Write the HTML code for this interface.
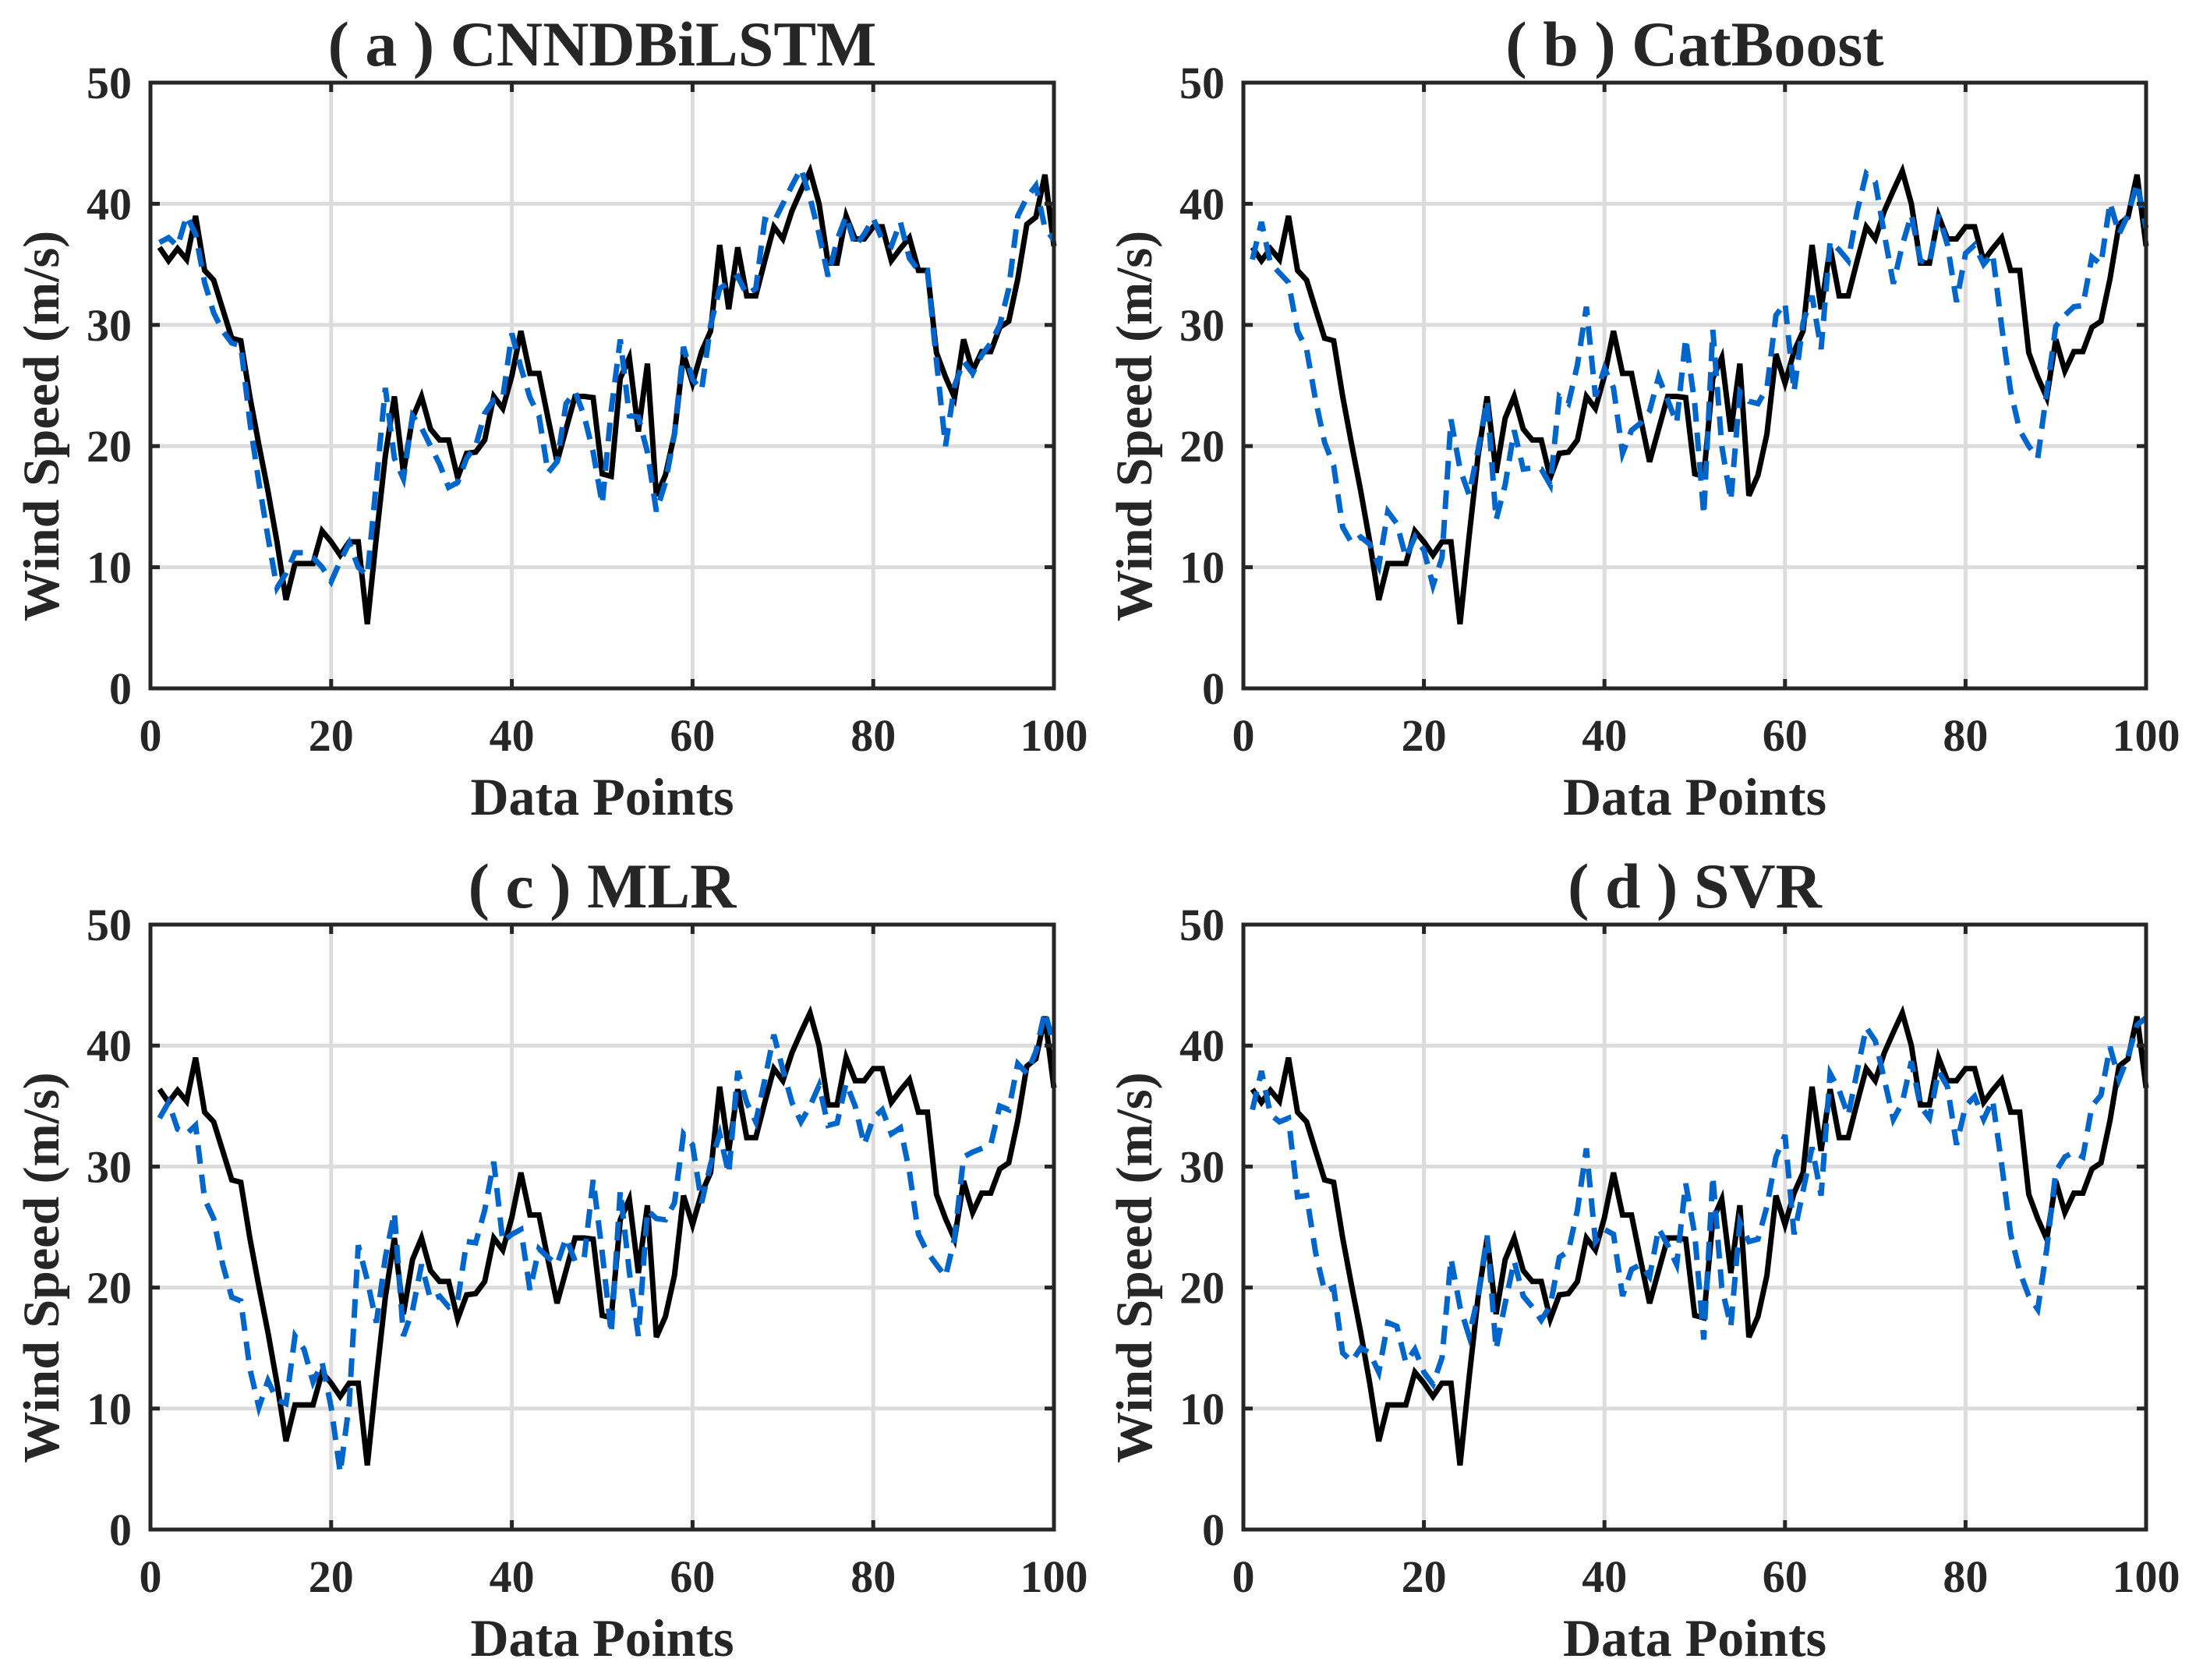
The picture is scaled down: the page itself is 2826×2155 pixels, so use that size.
<!DOCTYPE html>
<html><head><meta charset="utf-8"><style>
html,body{margin:0;padding:0;background:#fff}
svg{display:block}
text{font-family:"Liberation Serif","Times New Roman",serif;font-weight:bold;fill:#262626}
</style></head><body>
<svg id="fig" width="2826" height="2155" viewBox="0 0 2826 2155" xmlns="http://www.w3.org/2000/svg"></svg>
<script>
const actual=[36.4,35.3,36.3,35.4,39.0,34.5,33.7,31.3,28.9,28.7,24.1,20.1,16.3,12.1,7.3,10.3,10.3,10.3,13.0,12.1,11.0,12.1,12.1,5.3,12.5,19.2,24.1,17.8,22.3,24.1,21.4,20.5,20.5,17.4,19.4,19.5,20.5,24.1,23.1,25.8,29.5,26.0,26.0,22.3,18.7,21.4,24.1,24.1,24.0,17.7,17.5,25.6,27.3,21.2,26.8,15.9,17.6,21.0,27.6,25.2,27.8,29.5,36.6,31.3,36.4,32.4,32.4,35.3,38.1,37.1,39.4,41.1,42.7,40.0,35.1,35.1,39.0,37.1,37.1,38.1,38.1,35.3,36.3,37.2,34.5,34.5,27.7,25.7,24.0,28.8,26.2,27.8,27.8,29.8,30.3,33.8,38.3,38.9,42.4,36.5];
const predA=[36.8,37.2,36.5,39.0,37.5,33.5,31.0,29.5,28.5,28.3,22.0,17.0,12.5,8.3,9.5,11.2,11.2,10.8,10.0,8.8,10.5,12.0,10.0,9.3,17.0,24.8,19.0,17.3,22.5,21.5,20.0,18.5,16.6,17.0,19.0,20.0,22.7,23.8,24.0,29.3,26.5,24.0,22.5,17.8,18.7,23.5,24.5,22.5,19.5,15.2,23.0,28.8,22.5,22.4,19.5,14.6,17.0,21.0,28.2,25.5,24.6,30.0,33.0,33.5,34.0,32.5,33.0,38.7,38.5,40.0,41.5,42.9,40.5,37.5,34.0,37.0,39.0,36.5,37.5,38.8,37.0,36.5,38.5,35.5,34.5,34.5,27.0,20.0,25.0,27.0,26.0,27.5,28.5,30.0,33.0,39.0,40.5,41.5,38.0,37.0];
const predB=[35.4,38.5,35.1,34.3,33.5,29.5,28.0,23.8,20.3,18.4,13.3,12.0,12.5,11.9,10.1,14.6,13.6,10.8,12.5,11.4,8.5,10.8,22.2,18.1,16.0,19.7,23.8,13.9,16.8,21.3,18.1,18.2,18.1,16.8,24.1,23.5,26.7,31.5,24.1,26.4,24.8,19.4,21.3,21.9,22.9,25.7,23.8,21.9,28.9,23.5,14.3,29.6,20.0,15.5,24.5,23.7,23.5,24.8,30.8,31.8,24.5,30.2,32.4,28.0,36.9,36.2,35.3,39.4,42.5,41.8,37.5,33.4,36.6,39.1,35.3,35.0,39.1,36.6,31.9,35.9,36.6,35.0,35.9,29.9,24.5,21.3,20.0,19.0,24.5,29.9,30.8,31.5,31.6,35.6,35.0,40.1,37.5,39.1,41.7,38.0];
const predC=[34.0,35.3,33.1,32.7,33.4,27.3,25.7,21.9,19.2,18.9,13.3,10.1,12.3,10.7,10.4,16.0,14.9,12.2,13.8,10.1,4.7,10.4,23.5,20.6,17.1,22.5,26.2,16.0,18.1,21.9,19.0,19.3,18.4,18.9,23.8,23.7,26.4,30.4,23.8,24.4,24.8,19.8,23.2,22.5,21.9,24.1,22.2,22.4,28.9,22.9,16.2,28.0,21.3,16.0,26.4,25.7,25.6,27.0,32.7,31.8,27.0,30.2,32.7,29.4,37.9,35.3,33.7,37.2,40.9,38.0,35.3,33.7,35.0,36.7,33.4,33.6,36.9,35.0,31.8,34.0,34.7,32.7,33.2,29.6,24.4,22.9,21.9,20.9,24.1,30.8,31.2,31.5,31.8,35.0,34.7,38.5,37.7,39.5,42.8,40.0];
const predD=[34.7,37.9,34.3,33.7,34.0,27.5,27.6,22.9,19.7,20.0,14.6,13.9,15.0,14.6,13.0,17.1,16.8,13.8,14.9,13.0,12.0,14.2,22.4,18.4,16.0,19.3,24.3,14.9,18.7,22.2,19.3,18.4,17.3,18.5,22.5,23.0,26.4,31.5,23.8,24.8,24.4,19.3,21.5,21.9,20.9,24.9,23.5,21.9,28.6,24.4,15.7,29.2,20.0,16.8,25.4,23.8,24.0,26.7,30.8,32.6,24.4,28.0,31.6,27.6,37.7,36.3,34.2,37.9,41.5,40.4,37.2,33.9,35.3,38.7,35.0,34.0,37.9,36.6,31.8,35.0,35.8,33.9,35.5,30.2,24.4,21.3,19.3,18.2,23.2,29.6,30.8,31.2,30.8,35.0,35.9,39.9,37.2,39.1,41.7,42.3];
const panelTitles=["( a ) CNNDBiLSTM","( b ) CatBoost","( c ) MLR","( d ) SVR"];
const panelKeys=["a","b","c","d"];
const xTicks=[0,20,40,60,80,100];
const yTicks=[0,10,20,30,40,50];

const NS="http://www.w3.org/2000/svg";
const svg=document.getElementById('fig');
function mk(tag,attrs,parent){const e=document.createElementNS(NS,tag);for(const k in attrs)e.setAttribute(k,attrs[k]);(parent||svg).appendChild(e);return e;}
const boxes=[{L:193,R:1352,T:106,B:883},{L:1595,R:2753,T:106,B:883},{L:193,R:1352,T:1186,B:1962},{L:1595,R:2753,T:1186,B:1962}];
const preds=[predA,predB,predC,predD];
boxes.forEach((bx,p)=>{
  const g=mk('g',{});
  
  
  const sx=v=>bx.L+(v-0)/(100-0)*(bx.R-bx.L);
  const sy=v=>bx.B-(v-0)/(50-0)*(bx.B-bx.T);
  xTicks.forEach(t=>{if(t>0&&t<100){const l=mk('line',{x1:sx(t),x2:sx(t),y1:bx.T,y2:bx.B,stroke:'#dcdcdc','stroke-width':5},g);
    }});
  yTicks.forEach(t=>{if(t>0&&t<50){const l=mk('line',{x1:bx.L,x2:bx.R,y1:sy(t),y2:sy(t),stroke:'#dcdcdc','stroke-width':5},g);
    }});
  const ptsA=actual.map((v,i)=>sx(i+1).toFixed(1)+','+sy(v).toFixed(1)).join(' ');
  const pa=mk('polyline',{points:ptsA,fill:'none',stroke:'#000','stroke-width':7,'stroke-linejoin':'miter'},g);
  
  const ptsP=preds[p].map((v,i)=>sx(i+1).toFixed(1)+','+sy(v).toFixed(1)).join(' ');
  const pp=mk('polyline',{points:ptsP,fill:'none',stroke:'#0066cc','stroke-width':7,'stroke-dasharray':'24 14'},g);
  
  const r=mk('rect',{x:bx.L,y:bx.T,width:bx.R-bx.L,height:bx.B-bx.T,fill:'none',stroke:'#262626','stroke-width':5},g);
  
  xTicks.forEach(t=>{
    mk('line',{x1:sx(t),x2:sx(t),y1:bx.B,y2:bx.B-12,stroke:'#262626','stroke-width':5},g);
    mk('line',{x1:sx(t),x2:sx(t),y1:bx.T,y2:bx.T+12,stroke:'#262626','stroke-width':5},g);
    const tx=mk('text',{x:sx(t),y:bx.B+80,'text-anchor':'middle','font-size':58},g);tx.textContent=t;
    
  });
  yTicks.forEach(t=>{
    mk('line',{x1:bx.L,x2:bx.L+12,y1:sy(t),y2:sy(t),stroke:'#262626','stroke-width':5},g);
    mk('line',{x1:bx.R,x2:bx.R-12,y1:sy(t),y2:sy(t),stroke:'#262626','stroke-width':5},g);
    const tx=mk('text',{x:bx.L-24,y:sy(t)+20,'text-anchor':'end','font-size':58},g);tx.textContent=t;
    
  });
  const ti=mk('text',{x:(bx.L+bx.R)/2,y:bx.T-22,'text-anchor':'middle','font-size':82,fill:'#000'},g);ti.textContent=panelTitles[p];
  
  const xl=mk('text',{x:(bx.L+bx.R)/2,y:bx.B+162,'text-anchor':'middle','font-size':68},g);xl.textContent='Data Points';
  
  const cy=(bx.T+bx.B)/2+52, cx=bx.L-118;
  const yl=mk('text',{x:cx,y:cy,'text-anchor':'middle','font-size':66,transform:'rotate(-90 '+cx+' '+cy+')'},g);yl.textContent='Wind Speed (m/s)';
  
});
</script>
</body></html>
